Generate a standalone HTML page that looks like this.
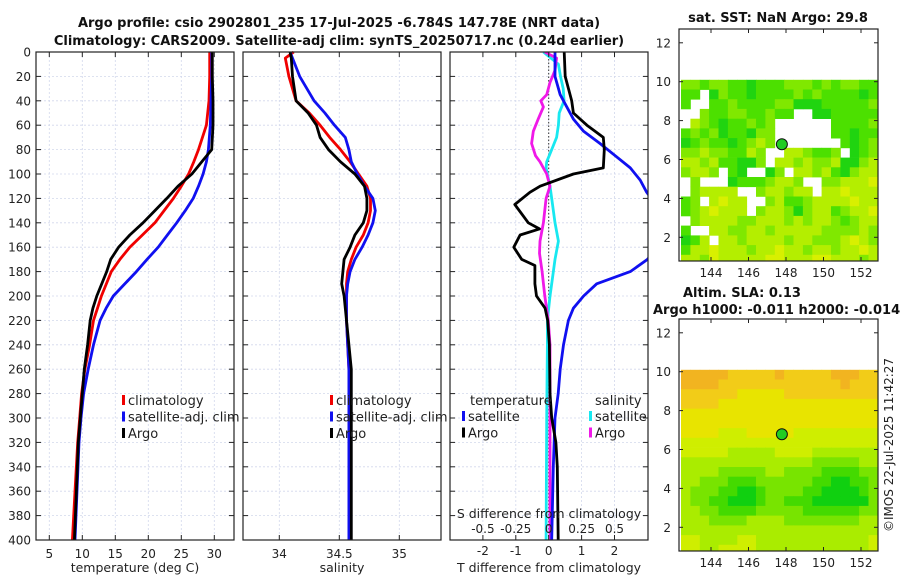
<!DOCTYPE html>
<html><head><meta charset="utf-8"><style>
html,body{margin:0;padding:0;background:#fff;}
svg{display:block;font-family:"DejaVu Sans","Liberation Sans",sans-serif;}
</style></head><body>
<svg id="fig" width="900" height="580" viewBox="0 0 900 580" xmlns="http://www.w3.org/2000/svg">
<g id="titles" font-weight="bold" font-size="13" fill="#111">
<text x="339" y="27" text-anchor="middle">Argo profile: csio 2902801_235 17-Jul-2025 -6.784S 147.78E (NRT data)</text>
<text x="339" y="45" text-anchor="middle">Climatology: CARS2009. Satellite-adj clim: synTS_20250717.nc (0.24d earlier)</text>
<text x="778" y="22" text-anchor="middle">sat. SST: NaN Argo: 29.8</text>
<text x="683" y="297">Altim. SLA: 0.13</text>
<text x="653" y="314">Argo h1000: -0.011 h2000: -0.014</text>
</g>
<text x="893" y="445" font-size="12" fill="#222" text-anchor="middle" transform="rotate(-90 893 445)">©IMOS 22-Jul-2025 11:42:27</text>
<g id="plots"></g>
</svg>
<script>
// ---------- data ----------
const depths = [0,20,40,60,80,90,100,110,120,130,140,150,160,170,180,200,210,220,240,260,280,300,320,360,400];
const tempClim = [29.3,29.3,29.2,28.8,27.6,26.9,26.1,25.0,23.8,22.4,21.0,19.1,17.2,15.7,14.4,12.9,12.3,11.7,11.1,10.4,9.9,9.6,9.3,8.9,8.5];
const tempSat  = [29.6,29.6,29.5,29.4,29.1,28.8,28.3,27.6,26.8,25.6,24.3,22.9,21.5,19.8,18.2,14.7,13.6,12.7,11.7,10.9,10.2,9.8,9.5,9.2,8.9];
const tempArgo = [29.7,29.7,29.8,29.8,29.6,28.1,26.6,24.5,22.8,21.0,19.2,17.2,15.5,14.3,13.7,12.2,11.6,11.2,10.8,10.3,10.0,9.7,9.4,9.1,8.8];

const salDepths = [0,5,20,40,50,60,70,80,90,100,110,120,130,140,150,160,170,180,190,200,220,240,260,300,400];
const salClim = [34.12,34.05,34.08,34.14,34.25,34.34,34.42,34.51,34.59,34.66,34.73,34.76,34.76,34.74,34.70,34.64,34.60,34.57,34.56,34.56,34.56,34.57,34.58,34.59,34.59];
const salSat  = [34.09,34.11,34.17,34.29,34.38,34.46,34.55,34.58,34.60,34.65,34.71,34.78,34.80,34.78,34.74,34.69,34.63,34.59,34.57,34.56,34.56,34.57,34.58,34.58,34.58];
const salArgo = [34.09,34.10,34.11,34.14,34.24,34.31,34.34,34.41,34.51,34.63,34.71,34.73,34.73,34.70,34.63,34.59,34.54,34.53,34.52,34.54,34.56,34.58,34.60,34.60,34.60];

const dtArgoDepths = [0,20,40,50,60,70,80,95,100,110,115,125,140,145,150,160,170,175,190,200,210,220,240,280,300,320,340,400];
const dtArgo = [0.47,0.50,0.70,0.75,1.16,1.66,1.69,1.66,0.75,-0.26,-0.57,-1.03,-0.62,-0.28,-0.87,-1.06,-0.82,-0.42,-0.42,-0.37,-0.11,-0.03,0.02,0.04,0.09,0.22,0.26,0.29];
const dtSatDepths = [0,20,35,45,55,65,75,85,95,105,115,130,145,160,170,180,185,190,200,210,220,240,260,280,300,340,400];
const dtSat = [0.19,0.19,0.35,0.55,0.75,1.06,1.56,2.02,2.48,2.78,2.98,3.4,3.6,3.3,3.0,2.48,1.97,1.46,1.06,0.75,0.60,0.45,0.35,0.29,0.19,0.14,0.09];
const dsDepths = [0,10,20,30,40,50,60,70,80,90,95,100,110,120,140,155,170,190,200,220,240,300,400];
const dsSat = [-0.04,0.074,0.09,0.11,0.117,0.08,0.074,0.06,0.023,-0.015,-0.02,-0.01,0.01,0.023,0.048,0.074,0.048,0.023,0.01,-0.01,-0.01,-0.015,-0.02];
const dsArgoDepths = [0,5,15,25,35,40,45,55,65,75,85,90,100,110,120,140,155,165,180,200,220,240,300,400];
const dsArgo = [-0.03,0.06,0.048,0.01,-0.015,-0.06,-0.04,-0.08,-0.117,-0.13,-0.10,-0.066,-0.015,0.01,-0.02,-0.04,-0.066,-0.07,-0.05,-0.03,-0.003,0.01,0.01,0.01];

const depthTicks = [0,20,40,60,80,100,120,140,160,180,200,220,240,260,280,300,320,340,360,380,400];
const tempTicks = [5,10,15,20,25,30];
const salTicks = [34,34.5,35];
const salTickLabels = ["34","34.5","35"];
const dtTicks = [-2,-1,0,1,2];
const dsTicks = [-0.5,-0.25,0,0.25,0.5];
const dsTickLabels = ["-0.5","-0.25","0","0.25","0.5"];
const lonTicks = [144,146,148,150,152];
const latTicks = [2,4,6,8,10,12];
const argoLon = 147.78, argoLat = 6.784;
const sstRows = [
"221221101112221212211","11.021101111212111101","1..112111122000111112","..2112211211..0011111",
".321011212......11112","1212011022......11011","0121101232.......1012","223221132..332112.012",
"332311002.33232230023","2332.10..02.332310233",".2...01112332..223334",".23333..233233.334333",
"12.3433..231123333433","1234333.2332023312334",".23333223332323321233","1..332233233333222232",
"013.33233332332223432","133433323343323323343","332433333443334433323"];
const slaRows = [
"777776666676666677766","777766666666666667666","666666555556666666666","666655555555555555555",
"555555555555555555555","555555555555555555555","555544455555444444444","444444444444444444444",
"444443333344443333333","333333333333332222233","333322222332222111122","332221112222221100112",
"322211001222211000012","322110001221110000002","332211112222211111122","333222233332222222233",
"333333333333333333333","443333443333333333334","443344443333333333334"];
const sstColors = ["#20d410","#4ce000","#80e800","#b4ee00","#d8f000"];
const slaColors = ["#10d010","#44da00","#78e400","#aaec00","#cfee00","#e8e400","#f2cc18","#f2b420"];

// ---------- helpers ----------
const NS="http://www.w3.org/2000/svg";
const root=document.getElementById('plots');
function mk(tag,attrs,parent){const e=document.createElementNS(NS,tag);for(const k in attrs)e.setAttribute(k,attrs[k]);(parent||root).appendChild(e);return e;}
const Y0=52, YS=1.22;
const yD=d=>Y0+d*YS;
const xT=t=>49.3+(t-5)*6.6;
const xS=s=>279.3+(s-34)*120;
const xDT=t=>548.7+t*32.9;
const xDS=s=>548.7+s*131.6;
const panels=[{x0:36,x1:234,name:'temperature-panel'},{x0:243,x1:441,name:'salinity-panel'},{x0:450,x1:648,name:'difference-panel'}];

const defs=mk('defs',{});
const cp=mk('clipPath',{id:'clip3'},defs);
mk('rect',{x:450,y:52,width:198,height:488},cp);
const cm1=mk('clipPath',{id:'clipm1'},defs);mk('rect',{x:679,y:29,width:199,height:232},cm1);
const cm2=mk('clipPath',{id:'clipm2'},defs);mk('rect',{x:679,y:319,width:199,height:232},cm2);

panels.forEach((p,i)=>{
  const g=mk('g',{});
  
  
  p.g=g;
  depthTicks.forEach(d=>{const l=mk('line',{x1:p.x0,x2:p.x1,y1:yD(d),y2:yD(d),stroke:'#d2d8ec','stroke-width':0.8,'stroke-dasharray':'2,2'},g);
    });
  const xt = i==0?tempTicks.map(xT):i==1?salTicks.map(xS):dtTicks.map(xDT);
  xt.forEach(x=>{const l=mk('line',{x1:x,x2:x,y1:52,y2:540,stroke:'#d2d8ec','stroke-width':0.8,'stroke-dasharray':'2,2'},g);
    });
});

function frame(p,xt){
  const g=p.g;
  const r=mk('rect',{x:p.x0,y:52,width:p.x1-p.x0,height:488,fill:'none',stroke:'#222','stroke-width':1.2},g);
  
  depthTicks.forEach(d=>{mk('line',{x1:p.x0,x2:p.x0+5,y1:yD(d),y2:yD(d),stroke:'#222'},g);mk('line',{x1:p.x1-5,x2:p.x1,y1:yD(d),y2:yD(d),stroke:'#222'},g);});
  xt.forEach(x=>{mk('line',{x1:x,x2:x,y1:540,y2:535,stroke:'#222'},g);mk('line',{x1:x,x2:x,y1:52,y2:57,stroke:'#222'},g);});
}
function line(xs,ds,xf,color,name,g,clip){
  const pts=xs.map((v,k)=>xf(v).toFixed(1)+','+yD(ds[k]).toFixed(1)).join(' ');
  const pl=mk('polyline',{points:pts,fill:'none',stroke:color,'stroke-width':2.8,'stroke-linejoin':'round'},g);
  if(clip)pl.setAttribute('clip-path','url(#clip3)');
  
  
}
function txt(x,y,s,attrs,g,name){const t=mk('text',Object.assign({x:x,y:y,'font-size':12,fill:'#222'},attrs||{}),g);t.textContent=s;
  return t;}

const p1=panels[0];
line(tempClim,depths,xT,'#f00000','climatology-temp-line',p1.g);
line(tempSat,depths,xT,'#1010f0','satellite-temp-line',p1.g);
line(tempArgo,depths,xT,'#000','argo-temp-line',p1.g);
frame(p1,tempTicks.map(xT));
depthTicks.forEach(d=>txt(31,yD(d)+4.5,String(d),{'text-anchor':'end'},p1.g,'depth-tick-label'));
tempTicks.forEach(t=>txt(xT(t),558,String(t),{'text-anchor':'middle'},p1.g,'temp-tick-label'));
txt(135,572,'temperature (deg C)',{'text-anchor':'middle','font-size':12.5},p1.g,'temp-axis-title');
const p2=panels[1];
line(salClim,salDepths,xS,'#f00000','climatology-sal-line',p2.g);
line(salSat,salDepths,xS,'#1010f0','satellite-sal-line',p2.g);
line(salArgo,salDepths,xS,'#000','argo-sal-line',p2.g);
frame(p2,salTicks.map(xS));
salTicks.forEach((s,k)=>txt(xS(s),558,salTickLabels[k],{'text-anchor':'middle'},p2.g,'sal-tick-label'));
txt(342,572,'salinity',{'text-anchor':'middle','font-size':12.5},p2.g,'sal-axis-title');
const p3=panels[2];
const z=mk('line',{x1:xDT(0),x2:xDT(0),y1:52,y2:540,stroke:'#333','stroke-width':1,'stroke-dasharray':'1.5,2'},p3.g);

line(dsSat,dsDepths,xDS,'#18e8f0','sal-diff-satellite-line',p3.g,true);
line(dsArgo,dsArgoDepths,xDS,'#f018e8','sal-diff-argo-line',p3.g,true);
line(dtSat,dtSatDepths,xDT,'#1010f0','temp-diff-satellite-line',p3.g,true);
line(dtArgo,dtArgoDepths,xDT,'#000','temp-diff-argo-line',p3.g,true);
frame(p3,dtTicks.map(xDT));
dtTicks.forEach(t=>txt(xDT(t),555,String(t),{'text-anchor':'middle'},p3.g,'tdiff-tick-label'));
txt(549,572,'T difference from climatology',{'text-anchor':'middle','font-size':12.5},p3.g,'tdiff-axis-title');
txt(549,518,'S difference from climatology',{'text-anchor':'middle','font-size':12.5},p3.g,'sdiff-axis-title');
dsTicks.forEach((s,k)=>txt(xDS(s),533,dsTickLabels[k],{'text-anchor':'middle'},p3.g,'sdiff-tick-label'));

function legend(x,y,items,g,name){
  const lg=mk('g',{},g);
  items.forEach((it,k)=>{const yy=y+k*16.5;
    mk('rect',{x:x,y:yy-10,width:3,height:10,fill:it[1]},lg);
    txt(x+6,yy,it[0],{'font-size':13},lg,'legend-entry');});
}
legend(122,405,[['climatology','#f00000'],['satellite-adj. clim','#1010f0'],['Argo','#000']],p1.g,'temp-legend');
legend(330,405,[['climatology','#f00000'],['satellite-adj. clim','#1010f0'],['Argo','#000']],p2.g,'sal-legend');
txt(470,405,'temperature',{'font-size':13},p3.g,'legend-title-temperature');
txt(595,405,'salinity',{'font-size':13},p3.g,'legend-title-salinity');
legend(462,421,[['satellite','#1010f0'],['Argo','#000']],p3.g,'tdiff-legend');
legend(589,421,[['satellite','#18e8f0'],['Argo','#f018e8']],p3.g,'sdiff-legend');

function map(rows,colors,yOff,clip,name){
  const g=mk('g',{});
  const xL=lon=>711+(lon-144)*18.75;
  const yL=lat=>yOff+81.7-(lat-10)*19.45;
  const cells=mk('g',{'clip-path':'url(#'+clip+')'},g);
  rows.forEach((row,r)=>{const lat=10.1-r*0.5;
    for(let c=0;c<row.length;c++){const ch=row[c];if(ch==='.')continue;
      const lon=142.4+c*0.5;
      const cell=mk('rect',{x:xL(lon).toFixed(1),y:yL(lat).toFixed(1),width:(0.5*18.75+0.4).toFixed(1),height:(0.5*19.45+0.4).toFixed(1),fill:colors[+ch]},cells);
      
      }});
  const fr=mk('rect',{x:679,y:yOff+29,width:199,height:232,fill:'none',stroke:'#222','stroke-width':1.2},g);
  
  lonTicks.forEach(l=>{const x=xL(l);mk('line',{x1:x,x2:x,y1:yOff+261,y2:yOff+257,stroke:'#222'},g);mk('line',{x1:x,x2:x,y1:yOff+29,y2:yOff+33,stroke:'#222'},g);
    txt(x,yOff+277,String(l),{'text-anchor':'middle'},g,'lon-tick-label');});
  latTicks.forEach(l=>{const y=yL(l);mk('line',{x1:679,x2:683,y1:y,y2:y,stroke:'#222'},g);mk('line',{x1:874,x2:878,y1:y,y2:y,stroke:'#222'},g);
    txt(671,y+4.5,String(l),{'text-anchor':'end'},g,'lat-tick-label');});
  const m=mk('circle',{cx:xL(argoLon),cy:yL(argoLat),r:5.5,fill:'#22cc22',stroke:'#111','stroke-width':1},g);
  
}
map(sstRows,sstColors,0,'clipm1','sst-map');
map(slaRows,slaColors,290,'clipm2','sla-map');
</script>
</body></html>
